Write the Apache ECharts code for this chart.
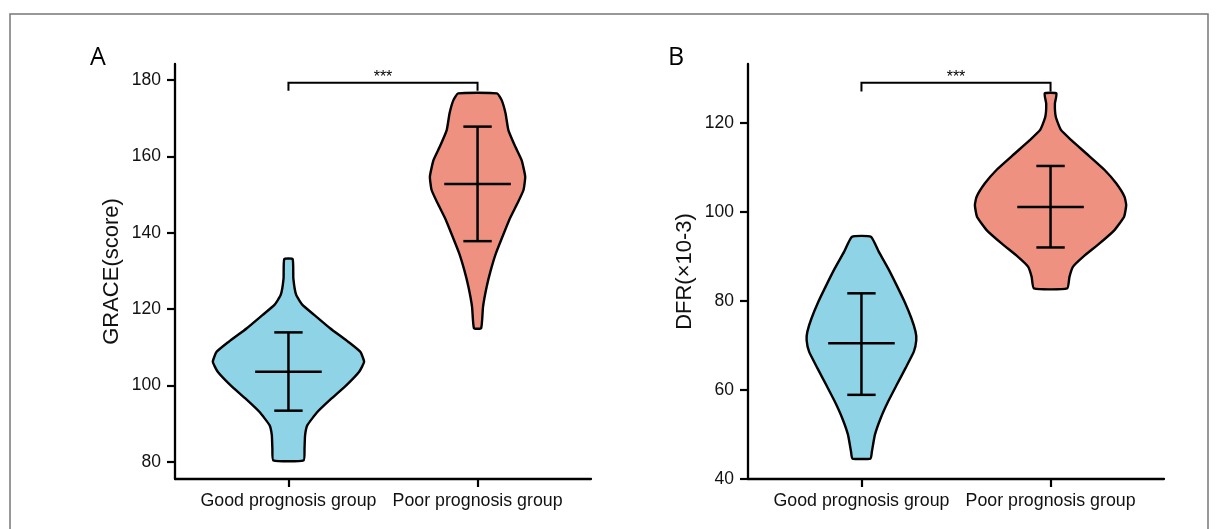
<!DOCTYPE html>
<html>
<head>
<meta charset="utf-8">
<script src="https://cdn.jsdelivr.net/npm/echarts@6/dist/echarts.min.js"></script>
<style>
  html, body { margin: 0; padding: 0; background: #ffffff; }
  #chart { width: 1219px; height: 529px; }
</style>
</head>
<body>
<div id="chart"></div>
<script>
// ---------- data ----------
const categories = ['Good prognosis group', 'Poor prognosis group'];
const graceTicks = [80, 100, 120, 140, 160, 180];
const dfrTicks = [40, 60, 80, 100, 120];
const catTicks = [1, 2];

// violin outlines, top to bottom: [value, half-width in category units]
const graceGood = [[133.1,0.022],[128.0,0.026],[123.7,0.041],[121.1,0.074],[118.5,0.136],[115.0,0.22],[111.4,0.317],[108.8,0.38],[106.2,0.40],[103.6,0.374],[100.1,0.307],[96.6,0.228],[93.1,0.154],[89.6,0.10],[87.0,0.088],[83.5,0.085],[80.4,0.08]];
const gracePoor = [[176.5,0.103],[174.8,0.127],[171.3,0.148],[166.9,0.163],[162.5,0.2],[159.0,0.233],[154.7,0.252],[151.2,0.243],[147.7,0.211],[143.3,0.167],[139.0,0.132],[134.6,0.097],[130.2,0.07],[125.8,0.048],[120.6,0.029],[115.0,0.019]];
const dfrGood = [[94.4,0.05],[91.0,0.092],[87.3,0.141],[83.6,0.185],[79.8,0.228],[76.1,0.264],[73.1,0.286],[71.2,0.29],[68.6,0.277],[64.9,0.233],[61.1,0.186],[57.4,0.141],[53.6,0.101],[49.9,0.071],[46.1,0.055],[44.6,0.048]];
const dfrPoor = [[126.6,0.031],[124.3,0.023],[121.3,0.028],[118.4,0.055],[116.1,0.11],[113.1,0.189],[109.4,0.286],[106.4,0.347],[103.4,0.391],[101.5,0.40],[98.9,0.389],[95.9,0.338],[92.9,0.259],[89.9,0.172],[87.7,0.119],[85.4,0.1],[82.8,0.088]];

// mean +/- SD
const graceMean = [103.6, 152.8];
const graceLower = [93.4, 137.8];
const graceUpper = [113.9, 167.8];
const dfrMean = [70.5, 101.1];
const dfrLower = [58.9, 92.0];
const dfrUpper = [81.7, 110.3];

// significance brackets: [bar level, end of drops]
const graceBracket = [179.3, 177.2];
const dfrBracket = [129.0, 127.0];
const sigLabel = '***';

// ---------- style ----------
const fills = ['#8fd4e6', '#ef9181'];
const ink = '#000000';
const FONT = "'Liberation Sans', Arial, Helvetica, sans-serif";

function violinSeries(gridIdx, profiles) {
  return {
    type: 'custom', xAxisIndex: gridIdx, yAxisIndex: gridIdx, silent: true, z: 2,
    data: profiles.map((p, i) => [i + 1, p[0][0]]),
    renderItem: function (params, api) {
      const i = params.dataIndex;
      const prof = profiles[i];
      const cx = i + 1;
      const right = prof.map(d => api.coord([cx + d[1], d[0]]));
      const left = prof.slice().reverse().map(d => api.coord([cx - d[1], d[0]]));
      return {
        type: 'polygon',
        shape: { points: right.concat(left), smooth: 0.15 },
        style: { fill: fills[i], stroke: ink, lineWidth: 2.4, lineJoin: 'round' }
      };
    }
  };
}

function errorSeries(gridIdx, mean, lower, upper) {
  return {
    type: 'custom', xAxisIndex: gridIdx, yAxisIndex: gridIdx, silent: true, z: 3,
    data: mean.map((m, i) => [i + 1, m, lower[i], upper[i]]),
    renderItem: function (params, api) {
      const cx = api.value(0);
      const m = api.value(1), lo = api.value(2), hi = api.value(3);
      const st = { stroke: ink, lineWidth: 2.5 };
      const seg = (a, b) => ({ type: 'line', shape: { x1: a[0], y1: a[1], x2: b[0], y2: b[1] }, style: st });
      return {
        type: 'group',
        children: [
          seg(api.coord([cx, lo]), api.coord([cx, hi])),
          seg(api.coord([cx - 0.075, hi]), api.coord([cx + 0.075, hi])),
          seg(api.coord([cx - 0.075, lo]), api.coord([cx + 0.075, lo])),
          seg(api.coord([cx - 0.176, m]), api.coord([cx + 0.176, m]))
        ]
      };
    }
  };
}

function bracketSeries(gridIdx, br) {
  return {
    type: 'custom', xAxisIndex: gridIdx, yAxisIndex: gridIdx, silent: true, z: 4,
    data: [[1.5, br[0]]],
    renderItem: function (params, api) {
      const pts = [api.coord([1, br[1]]), api.coord([1, br[0]]), api.coord([2, br[0]]), api.coord([2, br[1]])];
      const mid = api.coord([1.5, br[0]]);
      return {
        type: 'group',
        children: [
          { type: 'polyline', shape: { points: pts }, style: { stroke: ink, lineWidth: 2, fill: null } },
          { type: 'text', x: mid[0], y: mid[1] + 3,
            style: { text: sigLabel, fill: ink, font: "16px " + FONT, align: 'center', verticalAlign: 'bottom' } }
        ]
      };
    }
  };
}

function xAxis(gridIdx) {
  return {
    type: 'value', gridIndex: gridIdx, min: 0.4, max: 2.6,
    axisLine: { show: true, onZero: false, lineStyle: { color: ink, width: 2.3 } },
    axisTick: { show: true, customValues: catTicks, length: 8, lineStyle: { color: ink, width: 2.2 } },
    axisLabel: { show: true, customValues: catTicks, margin: 13, color: '#111', fontSize: 17.8, fontFamily: FONT,
                 formatter: v => categories[Math.round(v) - 1] },
    splitLine: { show: false }
  };
}

function yAxis(gridIdx, min, max, ticks, name) {
  return {
    type: 'value', gridIndex: gridIdx, min: min, max: max,
    name: name, nameLocation: 'middle', nameGap: 52, nameRotate: 90,
    nameTextStyle: { color: '#111', fontSize: 22, fontFamily: FONT },
    axisLine: { show: true, onZero: false, lineStyle: { color: ink, width: 2.3 } },
    axisTick: { show: true, customValues: ticks, length: 8, lineStyle: { color: ink, width: 2.2 } },
    axisLabel: { show: true, customValues: ticks, margin: 14, color: '#111', fontSize: 17.5, fontFamily: FONT },
    splitLine: { show: false }
  };
}

const chart = echarts.init(document.getElementById('chart'), null, { renderer: 'canvas' });
chart.setOption({
  backgroundColor: '#ffffff',
  animation: false,
  grid: [
    { left: 175, top: 64, width: 416, height: 415 },
    { left: 748, top: 64, width: 416, height: 415 }
  ],
  xAxis: [xAxis(0), xAxis(1)],
  yAxis: [
    yAxis(0, 75.5, 184.2, graceTicks, 'GRACE(score)'),
    yAxis(1, 40, 133.2, dfrTicks, 'DFR(×10-3)')
  ],
  series: [
    violinSeries(0, [graceGood, gracePoor]),
    errorSeries(0, graceMean, graceLower, graceUpper),
    bracketSeries(0, graceBracket),
    violinSeries(1, [dfrGood, dfrPoor]),
    errorSeries(1, dfrMean, dfrLower, dfrUpper),
    bracketSeries(1, dfrBracket)
  ],
  graphic: [
    { type: 'rect', silent: true, shape: { x: 10, y: 14, width: 1198, height: 600 },
      style: { fill: null, stroke: '#777777', lineWidth: 1.5 } },
    { type: 'text', silent: true, x: 90, y: 58, style: { text: 'A', fill: '#000', font: "25px 'Open Sans', sans-serif", verticalAlign: 'middle' } },
    { type: 'text', silent: true, x: 668, y: 58, style: { text: 'B', fill: '#000', font: "25px 'Open Sans', sans-serif", verticalAlign: 'middle' } }
  ]
});
</script>
</body>
</html>
